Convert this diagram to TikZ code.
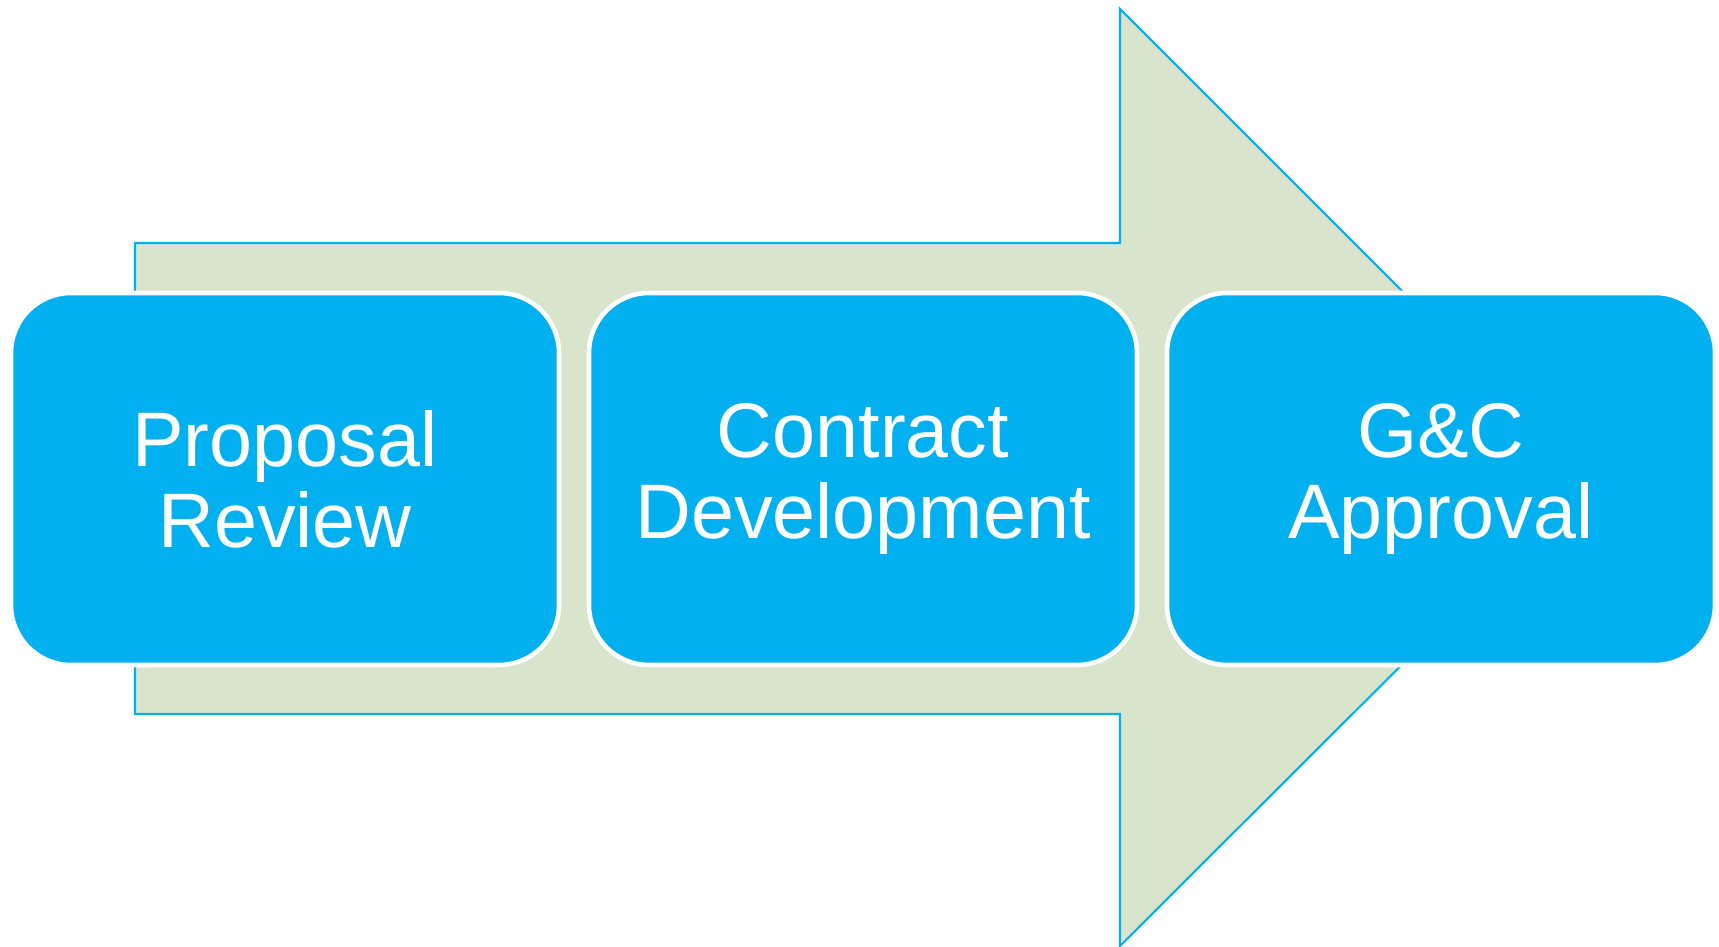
\documentclass[tikz,border=0pt]{standalone}
\usepackage{fontspec}
\setmainfont{Liberation Sans}
\usepackage{tikz}
\usetikzlibrary{positioning}
\definecolor{stageblue}{HTML}{03B0EF}
\definecolor{arrowgreen}{HTML}{D8E5CC}

\begin{document}
\begin{tikzpicture}[line cap=round, line join=round,
  stagebox/.style={draw=white, line width=1.3pt, fill=stageblue, rounded corners=0.6cm,
    minimum width=5.48cm, minimum height=3.72cm, inner sep=0pt, outer sep=0pt,
    align=center, text=white, font=\fontsize{22}{23}\selectfont}]
  \useasboundingbox (0, 0) rectangle (17.19, 9.47);
  %--- Background arrow
    \draw[line width=0.6pt, draw=stageblue, fill=arrowgreen, line join=miter]
      (1.35, 2.33) -- ++(0, 4.71) -- ++(9.85, 0) -- ++(0, 2.34)
      -- (15.89, 4.69) -- (11.20, 0.01) -- ++(0, 2.32) -- cycle;
  %--- Stages
    \node[stagebox] (review) at (2.85, 4.68) {Proposal\\Review};
    \node[stagebox, right=0.3cm of review] (contract) {Contract\\Development};
    \node[stagebox, right=0.3cm of contract] (approval) {G\&C\\Approval};
\end{tikzpicture}
\end{document}
